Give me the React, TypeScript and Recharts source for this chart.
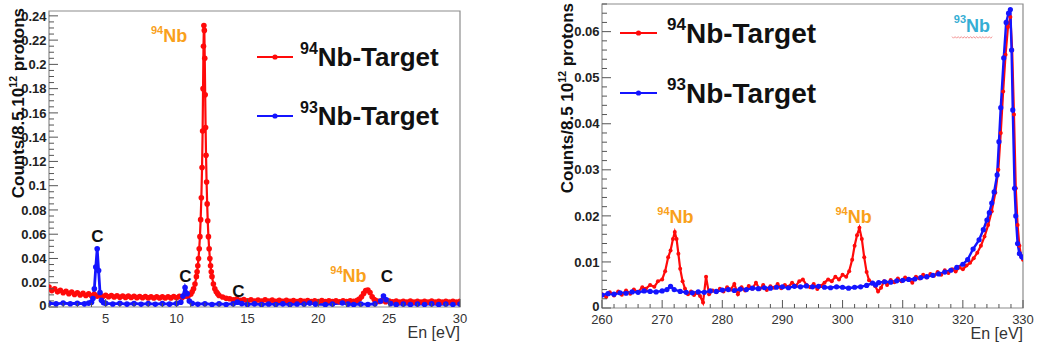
import React from "react";
import { LineChart, Line, XAxis, YAxis, ReferenceArea, ReferenceDot } from "recharts";

const FONT = "'Liberation Sans', Arial, Helvetica, sans-serif";
const RED = "#ff0a0a";
const BLUE = "#1414ff";
const ORANGE = "#f9a11b";
const CYAN = "#35aed4";

// left panel, 1-30 eV  [En, counts]
const lowRed94: [number, number][] = [
  [1.0, 0.0165], [1.2, 0.0135], [1.4, 0.015], [1.6, 0.0125], [1.8, 0.0138], [2.0, 0.0118],
  [2.2, 0.013], [2.4, 0.011], [2.6, 0.0124], [2.8, 0.0104], [3.0, 0.0117], [3.2, 0.0099],
  [3.4, 0.0112], [3.6, 0.0095], [3.8, 0.0108], [4.0, 0.0092], [4.2, 0.0104], [4.4, 0.0089],
  [4.6, 0.01], [4.8, 0.0086], [5.0, 0.0097], [5.2, 0.0084], [5.4, 0.0095], [5.6, 0.0082],
  [5.8, 0.0093], [6.0, 0.008], [6.2, 0.0091], [6.4, 0.0079], [6.6, 0.009], [6.8, 0.0078],
  [7.0, 0.0088], [7.2, 0.0077], [7.4, 0.0087], [7.6, 0.0076], [7.8, 0.0086], [8.0, 0.0075],
  [8.2, 0.0085], [8.4, 0.0074], [8.6, 0.0085], [8.8, 0.0074], [9.0, 0.0084], [9.2, 0.0074],
  [9.4, 0.0085], [9.6, 0.0075], [9.8, 0.0086], [10.0, 0.0076], [10.2, 0.0088], [10.4, 0.0079],
  [10.6, 0.009], [10.8, 0.0086], [11.0, 0.0105], [11.1, 0.0125], [11.2, 0.015], [11.3, 0.019],
  [11.4, 0.025], [11.45, 0.029], [11.5, 0.034], [11.55, 0.04], [11.6, 0.048], [11.65, 0.058],
  [11.7, 0.072], [11.75, 0.09], [11.8, 0.115], [11.84, 0.145], [11.87, 0.18], [11.9, 0.215],
  [11.93, 0.232], [11.96, 0.228], [11.99, 0.205], [12.02, 0.175], [12.05, 0.148], [12.08, 0.125],
  [12.12, 0.103], [12.16, 0.085], [12.2, 0.071], [12.25, 0.058], [12.3, 0.048], [12.35, 0.04],
  [12.4, 0.034], [12.45, 0.029], [12.5, 0.025], [12.6, 0.019], [12.7, 0.015], [12.8, 0.0125],
  [12.9, 0.011], [13.0, 0.0095], [13.25, 0.0082], [13.5, 0.0072], [13.75, 0.0068], [14.0, 0.006],
  [14.25, 0.0066], [14.5, 0.0055], [14.75, 0.0062], [15.0, 0.0052], [15.25, 0.006], [15.5, 0.005],
  [15.75, 0.0058], [16.0, 0.0049], [16.25, 0.006], [16.5, 0.005], [16.75, 0.0057], [17.0, 0.0047],
  [17.25, 0.0056], [17.5, 0.0046], [17.75, 0.0055], [18.0, 0.0047], [18.25, 0.0054], [18.5, 0.0045],
  [18.75, 0.0053], [19.0, 0.0046], [19.25, 0.0054], [19.5, 0.0044], [19.75, 0.0052], [20.0, 0.0045],
  [20.25, 0.0053], [20.5, 0.0044], [20.75, 0.0051], [21.0, 0.0045], [21.25, 0.0052], [21.5, 0.0043],
  [21.75, 0.0051], [22.0, 0.0045], [22.25, 0.0052], [22.5, 0.0046], [22.75, 0.0055], [22.9, 0.0065],
  [23.05, 0.0085], [23.2, 0.0112], [23.35, 0.0135], [23.5, 0.014], [23.65, 0.012], [23.8, 0.0085],
  [23.95, 0.0062], [24.1, 0.0052], [24.3, 0.0046], [24.5, 0.0052], [24.75, 0.0044], [25.0, 0.005],
  [25.25, 0.0042], [25.5, 0.0049], [25.75, 0.0041], [26.0, 0.0048], [26.25, 0.0041], [26.5, 0.0049],
  [26.75, 0.004], [27.0, 0.0047], [27.25, 0.0041], [27.5, 0.0048], [27.75, 0.004], [28.0, 0.0049],
  [28.25, 0.0041], [28.5, 0.0047], [28.75, 0.004], [29.0, 0.0048], [29.25, 0.0041], [29.5, 0.0047],
  [29.75, 0.004], [30.0, 0.0046],
];

const lowBlue93: [number, number][] = [
  [1.0, 0.0031], [1.5, 0.0026], [2.0, 0.0032], [2.5, 0.0027], [3.0, 0.0031], [3.5, 0.0026],
  [3.8, 0.0032], [4.0, 0.004], [4.1, 0.007], [4.2, 0.015], [4.3, 0.033], [4.4, 0.048],
  [4.5, 0.03], [4.6, 0.012], [4.7, 0.0055], [4.85, 0.0035], [5.0, 0.003], [5.5, 0.0025],
  [6.0, 0.003], [6.5, 0.0024], [7.0, 0.0029], [7.5, 0.0023], [8.0, 0.0028], [8.5, 0.0023],
  [9.0, 0.0028], [9.5, 0.0024], [10.0, 0.0029], [10.3, 0.004], [10.45, 0.009], [10.6, 0.016],
  [10.75, 0.011], [10.9, 0.005], [11.1, 0.003], [11.5, 0.0023], [12.0, 0.0027], [12.5, 0.0021],
  [13.0, 0.0026], [13.5, 0.0021], [14.0, 0.0027], [14.3, 0.004], [14.6, 0.0028], [15.0, 0.0021],
  [15.5, 0.0026], [16.0, 0.002], [16.5, 0.0025], [17.0, 0.0021], [17.5, 0.0026], [18.0, 0.002],
  [18.5, 0.0025], [19.0, 0.0025], [19.4, 0.0032], [19.8, 0.0024], [20.5, 0.002], [21.0, 0.0025],
  [21.7, 0.0033], [22.1, 0.0024], [22.5, 0.002], [23.0, 0.0025], [23.5, 0.0021], [24.0, 0.0026],
  [24.4, 0.005], [24.6, 0.009], [24.8, 0.006], [25.1, 0.0028], [25.5, 0.002], [26.0, 0.0025],
  [26.5, 0.002], [27.0, 0.0025], [27.5, 0.0021], [28.0, 0.0026], [28.5, 0.002], [29.0, 0.0025],
  [29.5, 0.0021], [30.0, 0.0025],
];

// right panel, 260-330 eV
const highRed94: [number, number][] = [
  [260, 0.003], [260.7, 0.0024], [261.3, 0.0034], [262, 0.0027], [262.7, 0.0036], [263.3, 0.0029],
  [264, 0.0038], [264.7, 0.0031], [265.3, 0.004], [266, 0.0035], [266.7, 0.0045], [267.3, 0.0042],
  [268, 0.005], [268.7, 0.0046], [269.3, 0.0058], [270, 0.0062], [270.5, 0.008], [271, 0.011],
  [271.4, 0.0125], [271.8, 0.015], [272.1, 0.0165], [272.4, 0.015], [272.7, 0.0118], [273, 0.0085],
  [273.4, 0.0058], [273.8, 0.0042], [274.3, 0.003], [274.8, 0.0036], [275.3, 0.0028], [275.8, 0.0033],
  [276.3, 0.0026], [276.8, 0.0012], [277.3, 0.0068], [277.8, 0.003], [278.4, 0.0038], [279, 0.0034],
  [279.6, 0.0042], [280.2, 0.0036], [280.8, 0.0045], [281.4, 0.004], [282, 0.0052], [282.6, 0.003],
  [283.2, 0.0045], [283.8, 0.0038], [284.4, 0.0048], [285, 0.0042], [285.6, 0.0055], [286.2, 0.0041],
  [286.8, 0.005], [287.4, 0.0039], [288, 0.0047], [288.6, 0.0044], [289.2, 0.0052], [289.8, 0.0043],
  [290.4, 0.005], [291, 0.0046], [291.6, 0.0055], [292.2, 0.0048], [292.8, 0.0058], [293.4, 0.0062],
  [294, 0.005], [294.6, 0.0045], [295.2, 0.0052], [295.8, 0.0041], [296.4, 0.0048], [297, 0.0055],
  [297.6, 0.0062], [298.2, 0.0058], [298.8, 0.0068], [299.4, 0.0062], [300, 0.0072], [300.6, 0.0068],
  [301.1, 0.008], [301.6, 0.0105], [302, 0.0135], [302.4, 0.0158], [302.8, 0.0174], [303.2, 0.015],
  [303.6, 0.011], [304, 0.0078], [304.4, 0.006], [304.9, 0.0055], [305.4, 0.0048], [305.9, 0.0036],
  [306.4, 0.0044], [306.9, 0.0058], [307.4, 0.005], [308, 0.0061], [308.6, 0.0056], [309.2, 0.0064],
  [309.8, 0.0058], [310.4, 0.0066], [311, 0.0062], [311.6, 0.0055], [312.2, 0.0068], [312.8, 0.0064],
  [313.4, 0.0072], [314, 0.0066], [314.6, 0.0074], [315.2, 0.007], [315.8, 0.0078], [316.4, 0.0072],
  [317, 0.0082], [317.6, 0.0076], [318.2, 0.0084], [318.8, 0.0079], [319.4, 0.0088], [320, 0.0084],
  [320.6, 0.0092], [321.2, 0.0098], [321.8, 0.0108], [322.4, 0.012], [323, 0.0135], [323.6, 0.0155],
  [324.2, 0.018], [324.8, 0.021], [325.4, 0.025], [325.9, 0.03], [326.3, 0.038], [326.7, 0.047],
  [327.1, 0.055], [327.5, 0.061], [327.9, 0.0632], [328.2, 0.056], [328.5, 0.042], [328.8, 0.026],
  [329.1, 0.018], [329.4, 0.0135], [329.7, 0.0112], [330, 0.0105],
];

const highBlue93: [number, number][] = [
  [260, 0.0028], [261, 0.0031], [262, 0.003], [263, 0.0033], [264, 0.0032], [265, 0.0035],
  [266, 0.0034], [267, 0.0037], [268, 0.0036], [269, 0.0035], [270, 0.0037], [270.8, 0.004],
  [271.4, 0.0047], [272, 0.004], [273, 0.0036], [274, 0.0034], [275, 0.0033], [276, 0.0035],
  [277, 0.0034], [278, 0.0037], [279, 0.0036], [280, 0.0039], [281, 0.004], [282, 0.0038],
  [283, 0.0041], [284, 0.004], [285, 0.0043], [286, 0.0042], [287, 0.0044], [288, 0.0043],
  [289, 0.0045], [290, 0.0046], [291, 0.0044], [292, 0.0047], [293, 0.0046], [294, 0.0048],
  [295, 0.0046], [296, 0.0047], [297, 0.0045], [298, 0.0044], [299, 0.0046], [300, 0.0045],
  [301, 0.0043], [302, 0.0045], [303, 0.0046], [304, 0.0049], [305, 0.0054], [305.5, 0.005],
  [306, 0.0055], [307, 0.0057], [308, 0.0056], [309, 0.0059], [310, 0.006], [311, 0.0062],
  [312, 0.0063], [313, 0.0066], [314, 0.0068], [315, 0.0071], [316, 0.0074], [317, 0.0078],
  [318, 0.0082], [319, 0.0088], [320, 0.0095], [320.8, 0.0105], [321.7, 0.0128], [322.7, 0.0148],
  [323.4, 0.017], [324, 0.0191], [324.4, 0.0207], [324.8, 0.0228], [325.2, 0.0252], [325.7, 0.0289],
  [326, 0.0361], [326.3, 0.0435], [326.8, 0.0543], [327.2, 0.062], [327.6, 0.064], [327.9, 0.0648],
  [328.1, 0.056], [328.3, 0.043], [328.6, 0.026], [328.8, 0.02], [329.1, 0.014], [329.4, 0.0118],
  [329.8, 0.0111], [330, 0.011],
];

const seriesNames = ["94Nb-Target", "93Nb-Target"];

const lowXMajor = [5, 10, 15, 20, 25, 30];
const lowYMajor = [0, 0.02, 0.04, 0.06, 0.08, 0.1, 0.12, 0.14, 0.16, 0.18, 0.2, 0.22, 0.24];
const highXMajor = [260, 270, 280, 290, 300, 310, 320, 330];
const highYMajor = [0, 0.01, 0.02, 0.03, 0.04, 0.05, 0.06];

type Note = { x: number; y: number; sup?: string; text: string; color: string; size: number; squiggle?: boolean };

const lowNotes: Note[] = [
  { x: 9.47, y: 0.2186, sup: "94", text: "Nb", color: ORANGE, size: 18 },
  { x: 4.42, y: 0.0536, text: "C", color: "#111", size: 17 },
  { x: 10.63, y: 0.0206, text: "C", color: "#111", size: 17 },
  { x: 14.37, y: 0.0082, text: "C", color: "#111", size: 17 },
  { x: 22.13, y: 0.0206, sup: "94", text: "Nb", color: ORANGE, size: 18 },
  { x: 24.85, y: 0.0206, text: "C", color: "#111", size: 17 },
];

const highNotes: Note[] = [
  { x: 272.22, y: 0.0185, sup: "94", text: "Nb", color: ORANGE, size: 18 },
  { x: 301.82, y: 0.0185, sup: "94", text: "Nb", color: ORANGE, size: 18 },
  { x: 321.52, y: 0.06, sup: "93", text: "Nb", color: CYAN, size: 18, squiggle: true },
];

const toXY = (pts: [number, number][]) => pts.map(([x, y]) => ({ x, y }));
const fmt = (v: number) => String(Number(v.toFixed(3)));

function tickList(min: number, max: number, step: number) {
  const out: number[] = [];
  for (let i = Math.ceil(min / step - 1e-9); i * step <= max + 1e-9; i++) {
    out.push(Math.round(i * step * 1e6) / 1e6);
  }
  return out;
}

const isIn = (list: number[], v: number) => list.some((m) => Math.abs(m - v) < 1e-9);

const NoteShape = (n: Note) => (props: any) => {
  const { cx, cy } = props;
  const supSize = Math.round(n.size * 0.62);
  const rise = n.size * 0.46;
  let wave = "";
  if (n.squiggle) {
    for (let i = 0; i <= 26; i++) {
      const px = cx - 20 + i * 1.55;
      const py = cy + 5 + (i % 2 === 0 ? 0 : 1.6);
      wave += (i === 0 ? "M" : "L") + px.toFixed(1) + " " + py.toFixed(1);
    }
  }
  return (
    <g>
      <text x={cx} y={cy} textAnchor="middle" fontFamily={FONT} fontWeight="bold" fill={n.color}>
        {n.sup && (
          <tspan fontSize={supSize} dy={-rise}>
            {n.sup}
          </tspan>
        )}
        <tspan fontSize={n.size} dy={n.sup ? rise : 0}>
          {n.text}
        </tspan>
      </text>
      {n.squiggle && <path d={wave} fill="none" stroke="#f28a8a" strokeWidth={0.9} />}
    </g>
  );
};

type Series = { name: string; pts: [number, number][]; color: string; r: number; w: number };

type PanelProps = {
  left: number;
  width: number;
  height: number;
  top: number;
  right: number;
  bottom: number;
  yAxisWidth: number;
  xDomain: [number, number];
  yDomain: [number, number];
  xMajor: number[];
  xStep: number;
  yMajor: number[];
  yStep: number;
  series: Series[];
  notes: Note[];
  yTitle: { pre: string; sup: string; post: string; x: number; y: number; size: number };
  legend: { x1: number; x2: number; y: number; gap: number; tx: number; size: number; sup: number };
};

const Panel = (p: PanelProps) => {
  const xTicks = tickList(p.xDomain[0], p.xDomain[1], p.xStep);
  const yTicks = tickList(p.yDomain[0], p.yDomain[1], p.yStep);
  const plotBottom = p.height - p.bottom;
  const plotRight = p.width - p.right;

  const XTick = (t: any) => {
    const major = isIn(p.xMajor, t.payload.value);
    const y0 = plotBottom;
    return (
      <g>
        <line x1={t.x} x2={t.x} y1={y0} y2={y0 - (major ? 8 : 4)} stroke="#555" />
        {major && (
          <text x={t.x} y={y0 + 16} textAnchor="middle" fontFamily={FONT} fontSize={13} fill="#333">
            {fmt(t.payload.value)}
          </text>
        )}
      </g>
    );
  };

  const YTick = (t: any) => {
    const v = t.payload.value;
    const major = isIn(p.yMajor, v);
    const x0 = p.yAxisWidth;
    return (
      <g>
        <line x1={x0} x2={x0 + (major ? 9 : 5)} y1={t.y} y2={t.y} stroke="#555" />
        {major && (
          <text
            x={x0 - 2.5}
            y={v === 0 ? t.y - 2 : t.y}
            dy="0.36em"
            textAnchor="end"
            fontFamily={FONT}
            fontSize={13}
            fontWeight="bold"
            fill="#222"
          >
            {fmt(v)}
          </text>
        )}
      </g>
    );
  };

  const t = p.yTitle;
  const lg = p.legend;

  return (
    <div style={{ position: "absolute", left: p.left, top: 0, width: p.width, height: p.height }}>
      <LineChart
        width={p.width}
        height={p.height}
        margin={{ top: p.top, right: p.right, bottom: p.bottom - 20, left: 0 }}
      >
        <XAxis
          type="number"
          dataKey="x"
          domain={p.xDomain}
          allowDataOverflow
          ticks={xTicks}
          interval={0}
          height={20}
          tickSize={0}
          tickMargin={0}
          axisLine={false}
          tickLine={false}
          tick={XTick}
        />
        <YAxis
          type="number"
          dataKey="y"
          domain={p.yDomain}
          allowDataOverflow
          ticks={yTicks}
          interval={0}
          width={p.yAxisWidth}
          tickSize={0}
          tickMargin={0}
          axisLine={false}
          tickLine={false}
          tick={YTick}
        />
        <ReferenceArea
          x1={p.xDomain[0]}
          x2={p.xDomain[1]}
          y1={p.yDomain[0]}
          y2={p.yDomain[1]}
          fill="none"
          stroke="#8c8c8c"
          strokeWidth={1.2}
          ifOverflow="visible"
        />
        {p.series.map((s) => (
          <Line
            key={s.name}
            name={s.name}
            data={toXY(s.pts)}
            dataKey="y"
            type="linear"
            stroke={s.color}
            strokeWidth={s.w}
            dot={{ r: s.r, fill: s.color, stroke: s.color, strokeWidth: 0 }}
            activeDot={false}
            isAnimationActive={false}
          />
        ))}
        {p.notes.map((n, i) => (
          <ReferenceDot key={i} x={n.x} y={n.y} r={0} ifOverflow="visible" shape={NoteShape(n)} />
        ))}
      </LineChart>
      <svg
        width={p.width}
        height={p.height}
        style={{ position: "absolute", left: 0, top: 0, pointerEvents: "none" }}
      >
        <text
          x={t.x}
          y={t.y}
          transform={`rotate(-90 ${t.x} ${t.y})`}
          textAnchor="end"
          fontFamily={FONT}
          fontWeight="bold"
          fontSize={t.size}
          fill="#111"
        >
          {t.pre}
          <tspan fontSize={t.size * 0.62} dy={-t.size * 0.42}>
            {t.sup}
          </tspan>
          <tspan dy={t.size * 0.42}>{t.post}</tspan>
        </text>
        <text x={plotRight} y={plotBottom + 31} textAnchor="end" fontFamily={FONT} fontSize={16} fill="#333">
          En [eV]
        </text>
        {p.series.map((s, i) => {
          const y = lg.y + i * lg.gap;
          const m = s.name.match(/^(\d+)(.*)$/) || ["", "", s.name];
          const rise = lg.size * 0.46;
          return (
            <g key={s.name}>
              <line x1={lg.x1} x2={lg.x2} y1={y} y2={y} stroke={s.color} strokeWidth={2} />
              <circle cx={(lg.x1 + lg.x2) / 2} cy={y} r={2.6} fill={s.color} />
              <text x={lg.tx} y={y + lg.size * 0.36} fontFamily={FONT} fontWeight="bold" fill="#111">
                <tspan fontSize={lg.sup} dy={-rise}>
                  {m[1]}
                </tspan>
                <tspan fontSize={lg.size} dy={rise}>
                  {m[2]}
                </tspan>
              </text>
            </g>
          );
        })}
      </svg>
    </div>
  );
};

export default function App() {
  return (
    <div style={{ position: "absolute", left: 0, top: 0, width: 1044, height: 348, background: "#fff" }}>
      <Panel
        left={0}
        width={480}
        height={348}
        top={11}
        right={20}
        bottom={41}
        yAxisWidth={49}
        xDomain={[1, 30]}
        yDomain={[0, 0.244]}
        xMajor={lowXMajor}
        xStep={1}
        yMajor={lowYMajor}
        yStep={0.005}
        series={[
          { name: seriesNames[0], pts: lowRed94, color: RED, r: 2.8, w: 2.2 },
          { name: seriesNames[1], pts: lowBlue93, color: BLUE, r: 2.8, w: 2.8 },
        ]}
        notes={lowNotes}
        yTitle={{ pre: "Counts/8.5.10", sup: "12", post: " protons", x: 24, y: 8, size: 17 }}
        legend={{ x1: 257, x2: 293, y: 57, gap: 59, tx: 300, size: 26, sup: 16 }}
      />
      <Panel
        left={520}
        width={524}
        height={348}
        top={4}
        right={21}
        bottom={40}
        yAxisWidth={82}
        xDomain={[260, 330]}
        yDomain={[0, 0.066]}
        xMajor={highXMajor}
        xStep={2}
        yMajor={highYMajor}
        yStep={0.002}
        series={[
          { name: seriesNames[0], pts: highRed94, color: RED, r: 2, w: 2.2 },
          { name: seriesNames[1], pts: highBlue93, color: BLUE, r: 2.6, w: 2.4 },
        ]}
        notes={highNotes}
        yTitle={{ pre: "Counts/8.5 10", sup: "12", post: " protons", x: 53, y: 3, size: 17 }}
        legend={{ x1: 100, x2: 137, y: 33, gap: 60, tx: 147, size: 28, sup: 17 }}
      />
    </div>
  );
}
